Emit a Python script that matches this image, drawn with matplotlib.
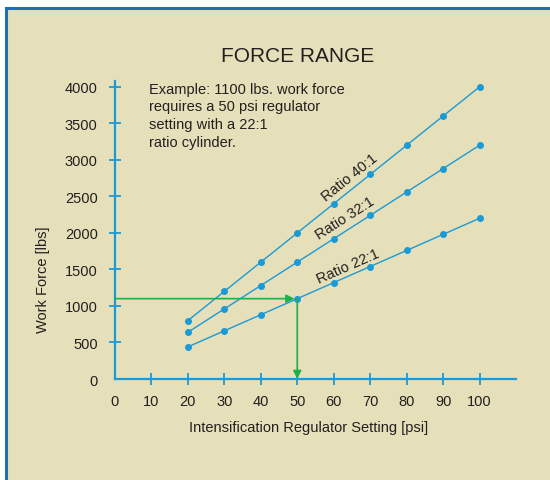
import matplotlib
matplotlib.use("Agg")
import matplotlib.pyplot as plt
import numpy as np
from matplotlib.patches import Rectangle

plt.rcParams['font.family'] = ['Liberation Sans', 'DejaVu Sans']

# data
psi = [20, 30, 40, 50, 60, 70, 80, 90, 100]
force_40 = [800, 1200, 1600, 2000, 2400, 2800, 3200, 3600, 4000]
force_32 = [640, 960, 1280, 1600, 1920, 2240, 2560, 2880, 3200]
force_22 = [440, 660, 880, 1100, 1320, 1540, 1760, 1980, 2200]
x_ticks = [0, 10, 20, 30, 40, 50, 60, 70, 80, 90, 100]
y_ticks = [0, 500, 1000, 1500, 2000, 2500, 3000, 3500, 4000]
example_psi = 50
example_force = 1100

beige = '#e5e0b9'
blue = '#1b9ad6'
frame_blue = '#1f6fb2'
green = '#1fb04b'
txt = '#231f20'

W, H = 550, 481
fig = plt.figure(figsize=(5.5, 4.81), dpi=100, facecolor='white')
fig.patches.append(Rectangle((5.5 / W, -0.1), 1.2, 1.1 - 8.5 / H,
                             transform=fig.transFigure, facecolor=beige,
                             edgecolor=frame_blue, linewidth=2.2, zorder=-10))

ax = fig.add_axes([115 / W, 1 - 380 / H, (516 - 115) / W, (380 - 82) / H])
ax.set_zorder(5)
ax.set_facecolor('none')
ax.set_xlim(0, 110)
ax.set_ylim(0, 4080)

for s in ['top', 'right']:
    ax.spines[s].set_visible(False)
for s in ['left', 'bottom']:
    ax.spines[s].set_color(blue)
    ax.spines[s].set_linewidth(1.6)

ax.set_xticks(x_ticks)
ax.set_yticks(y_ticks)
ax.tick_params(direction='inout', length=9, width=1.3, color=blue,
               labelsize=10.5, labelcolor=txt)
ax.tick_params(axis='y', pad=8)
ax.tick_params(axis='x', pad=6)
ax.xaxis.get_major_ticks()[0].tick1line.set_visible(False)
ax.yaxis.get_major_ticks()[0].tick1line.set_visible(False)

for f in [force_40, force_32, force_22]:
    ax.plot(psi, f, color=blue, lw=1.0, marker='o', ms=4.0, clip_on=False, zorder=3)

# example arrows
ax.annotate('', xy=(example_psi, example_force), xytext=(0, example_force),
            arrowprops=dict(arrowstyle='-|>', color=green, lw=1.2,
                            mutation_scale=12, shrinkA=0, shrinkB=2))
ax.annotate('', xy=(example_psi, 0), xytext=(example_psi, example_force),
            arrowprops=dict(arrowstyle='-|>', color=green, lw=1.2,
                            mutation_scale=12, shrinkA=0, shrinkB=0))

# ratio labels, rotated to follow their line
for lab, xy, f in [('Ratio 40:1', (64.4, 2760), force_40),
                   ('Ratio 32:1', (63.0, 2215), force_32),
                   ('Ratio 22:1', (63.8, 1545), force_22)]:
    slope = (f[-1] - f[0]) / (psi[-1] - psi[0])
    p0 = ax.transData.transform((0, 0))
    p1 = ax.transData.transform((10, 10 * slope))
    ang = np.degrees(np.arctan2(p1[1] - p0[1], p1[0] - p0[0]))
    ax.text(xy[0], xy[1], lab, fontsize=10.5, color=txt, ha='center', va='center',
            rotation=ang, rotation_mode='anchor')

ax.text(9.3, 4070, 'Example: 1100 lbs. work force\nrequires a 50 psi regulator\n'
        'setting with a 22:1\nratio cylinder.', fontsize=10.5, color=txt,
        ha='left', va='top', linespacing=1.33)

fig.text(298 / W, 1 - 57 / H, 'FORCE RANGE', fontsize=15, color=txt,
         ha='center', va='center')
fig.text(309 / W, 1 - 428 / H, 'Intensification Regulator Setting [psi]',
         fontsize=10.5, color=txt, ha='center', va='center')
fig.text(43 / W, 1 - 280 / H, 'Work Force [lbs]', fontsize=10.5, color=txt,
         ha='center', va='center', rotation=90)

fig.savefig('out.png', dpi=100, facecolor='white')
